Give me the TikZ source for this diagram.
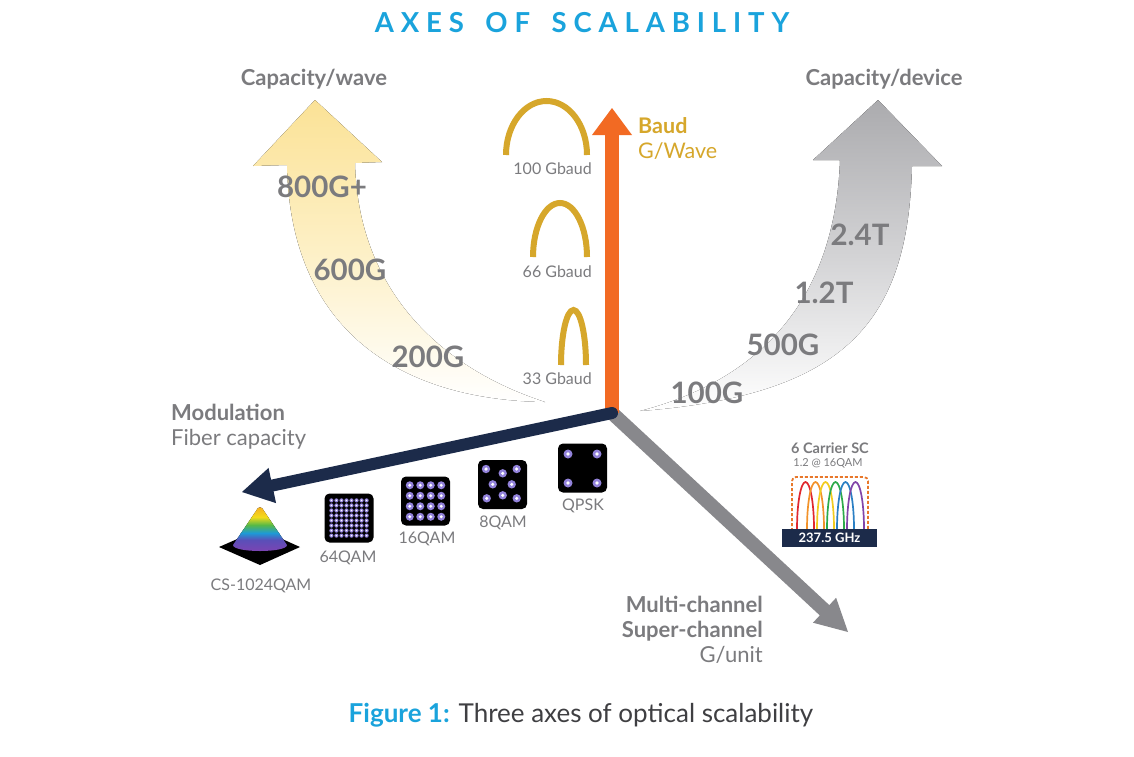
\documentclass[tikz,border=0pt]{standalone}
\usepackage{fontspec}
\setmainfont{Lato}
\usetikzlibrary{calc}
\definecolor{tblue}{HTML}{1AA3DC}
\definecolor{tgray}{HTML}{7B7B7E}
\definecolor{tdark}{HTML}{3F3F42}
\definecolor{tgold}{HTML}{D6A72B}
\definecolor{torange}{HTML}{F26A23}
\definecolor{tnavy}{HTML}{1C2B4A}
\definecolor{tarrow}{HTML}{88888C}
\definecolor{ytop}{HTML}{FBE296}
\definecolor{ymid}{HTML}{FDF0C6}
\definecolor{gtop}{HTML}{ABABAE}
\definecolor{gmid}{HTML}{D3D3D5}
\definecolor{qpurple}{HTML}{9282DA}
\definecolor{dashor}{HTML}{E8772A}
\definecolor{c1}{HTML}{E0282E}
\definecolor{c2}{HTML}{F2922A}
\definecolor{c3}{HTML}{F2CB1F}
\definecolor{c4}{HTML}{2DAA4A}
\definecolor{c5}{HTML}{2A7FC4}
\definecolor{c6}{HTML}{8244A8}
\definecolor{k1}{HTML}{F5A623}
\definecolor{k2}{HTML}{F3DB1A}
\definecolor{k3}{HTML}{56B947}
\definecolor{k4}{HTML}{1E9AD6}
\definecolor{k5}{HTML}{5A4FB8}
\definecolor{k6}{HTML}{8A3FB0}
\newcommand\myarch[5][]{%
  \draw[#1] (#2,#4) .. controls (#2,{#4-0.552*(#4-#5)}) and ({(#2+#3)/2-0.552*(#3-#2)/2},#5) .. ({(#2+#3)/2},#5)
    .. controls ({(#2+#3)/2+0.552*(#3-#2)/2},#5) and (#3,{#4-0.552*(#4-#5)}) .. (#3,#4);}
\newcommand\qdot[3]{\fill[qpurple] (#1,#2) circle (#3); \fill[white] (#1,#2) circle ({0.42*#3});}
\begin{document}
\begin{tikzpicture}[x=1pt,y=-1pt,
  lbl/.style={text=tgray, font=\bfseries\fontsize{22}{24}\selectfont, inner sep=0},
  lblr/.style={text=tgray, font=\fontsize{22}{24}\selectfont, inner sep=0},
  val/.style={text=tgray, font=\bfseries\fontsize{29.5}{32}\selectfont, inner sep=0},
  small/.style={text=tgray, font=\fontsize{16}{18}\selectfont, inner sep=0},
  qbox/.style={fill=black, rounded corners=5pt, inner sep=0, minimum size=49pt},
  goldarch/.style={draw=tgold, line width=6pt},
  carrier/.style={line width=1.7pt},
]
\useasboundingbox (0,0) rectangle (1134,756);
\fill[white] (0,0) rectangle (1134,756);

% title
\node[text=tblue, font=\bfseries\fontsize{27.5}{30}\selectfont\addfontfeature{LetterSpace=25}, inner sep=0, anchor=base] (title) at (582,32) {AXES\hspace{8pt} OF\hspace{8pt} SCALABILITY};

% curved yellow arrow
\fill[top color=ytop, bottom color=white, middle color=ymid]
  (545,402) .. controls (400,400) and (290,330) .. (287,165)
  -- (253,166) -- (315,100) -- (382,162) -- (355,163)
  .. controls (358,290) and (440,368) .. (545,402) -- cycle;
% curved gray arrow
\fill[top color=gtop, bottom color=white, middle color=gmid]
  (640,411) .. controls (760,380) and (835,300) .. (840,160)
  -- (813,160) -- (878,100) -- (942,166) -- (912,166)
  .. controls (908,320) and (848,395) .. (640,411) -- cycle;

\node[lbl, anchor=base] (capw) at (314,85) {Capacity/wave};
\node[lbl, anchor=base] (capd) at (884,85) {Capacity/device};
\node[val, anchor=base] (v800) at (322,197) {800G+};
\node[val, anchor=base] (v600) at (350,280) {600G};
\node[val, anchor=base] (v200) at (428,367) {200G};
\node[val, anchor=base] (v24) at (860,245) {2.4T};
\node[val, anchor=base] (v12) at (824,303) {1.2T};
\node[val, anchor=base] (v500) at (783,355) {500G};
\node[val, anchor=base] (v100) at (707,403) {100G};

% gold arches
\myarch[goldarch]{506}{587}{155}{101}
\myarch[goldarch]{533}{587}{257}{203}
\myarch[goldarch]{561}{586}{365}{310}
\node[small, anchor=base east] (g100) at (592,174) {100 Gbaud};
\node[small, anchor=base east] (g66) at (592,277) {66 Gbaud};
\node[small, anchor=base east] (g33) at (592,384) {33 Gbaud};

\node[text=tgold, font=\bfseries\fontsize{21.5}{24}\selectfont, inner sep=0, anchor=base west] (baud) at (638,133) {Baud};
\node[text=tgold, font=\fontsize{21.5}{24}\selectfont, inner sep=0, anchor=base west] (gwave) at (638,158) {G/Wave};

% axes
\coordinate (O) at (612,413);
\coordinate (baudtip) at (612,108);
\coordinate (modtip) at (242,492);
\coordinate (chantip) at (848,632);

\coordinate (chanbase) at ($(chantip)!32pt!(O)$);
\draw[tarrow, line width=14pt] (O) -- ($(chantip)!28pt!(O)$);
\fill[tarrow] (chantip) -- ($(chanbase)!17pt!90:(chantip)$) -- ($(chanbase)!17pt!-90:(chantip)$) -- cycle;

\coordinate (baudbase) at ($(baudtip)!27pt!(O)$);
\draw[torange, line width=14pt] (O) -- ($(baudtip)!24pt!(O)$);
\fill[torange] (baudtip) -- ($(baudbase)!20pt!90:(baudtip)$) -- ($(baudbase)!20pt!-90:(baudtip)$) -- cycle;

\coordinate (modbase) at ($(modtip)!31pt!(O)$);
\draw[tnavy, line width=12pt, line cap=round] (O) -- ($(modtip)!27pt!(O)$);
\fill[tnavy] (modtip) -- ($(modbase)!18pt!90:(modtip)$) -- ($(modbase)!18pt!-90:(modtip)$) -- cycle;

\node[lbl, anchor=base west] (modl) at (171,420) {Modulation};
\node[lblr, anchor=base west] (fibl) at (171,445) {Fiber capacity};

% constellations
\node[qbox] (q64) at (349,518) {};
\foreach \i in {0,...,7} \foreach \j in {0,...,7} {\qdot{331.4+5.03*\i}{500.4+5.03*\j}{2.1}}
\node[qbox] (q16) at (425.5,501) {};
\foreach \i in {0,...,3} \foreach \j in {0,...,3} {\qdot{409.75+10.5*\i}{485.25+10.5*\j}{4}}
\node[qbox] (q8) at (502.5,484.5) {};
\qdot{486}{469}{4.2}\qdot{502.7}{473.3}{4.2}\qdot{516.7}{469}{4.2}
\qdot{492.7}{484.3}{4.2}\qdot{511.7}{484.3}{4.2}
\qdot{486.7}{498.3}{4.2}\qdot{502.7}{495.3}{4.2}\qdot{516.7}{498.3}{4.2}
\node[qbox] (qpsk) at (582.5,468) {};
\qdot{568}{454}{4.5}\qdot{597}{454}{4.5}\qdot{568}{483}{4.5}\qdot{597}{483}{4.5}

\node[small, anchor=base] (l64) at (348,562) {64QAM};
\node[small, anchor=base] (l16) at (427,543) {16QAM};
\node[small, anchor=base] (l8) at (503,527) {8QAM};
\node[small, anchor=base] (lqpsk) at (583,510) {QPSK};
\node[small, anchor=base] (lcs) at (261,590) {CS-1024QAM};

% cone
\fill[black] (219,547) -- (260,529) -- (300,547) -- (260,565) -- cycle;
\begin{scope}
\clip (233,545) -- (256,511) .. controls (258,506) and (262,506) .. (264,511) -- (287,545)
  .. controls (287,553) and (233,553) .. (233,545) -- cycle;
\fill[top color=k1, bottom color=k2] (225,505) rectangle (295,517);
\fill[top color=k2, bottom color=k3] (225,517) rectangle (295,525);
\fill[top color=k3, bottom color=k4] (225,525) rectangle (295,533);
\fill[top color=k4, bottom color=k5] (225,533) rectangle (295,540);
\fill[top color=k5, bottom color=k6] (225,540) rectangle (295,556);
\end{scope}

% 6 carrier SC
\node[text=tgray, font=\bfseries\fontsize{14.5}{16}\selectfont, inner sep=0, anchor=base] (sc) at (830,453) {6 Carrier SC};
\node[text=tgray, font=\fontsize{11}{12}\selectfont, inner sep=0, anchor=base] (sc2) at (828,466) {1.2 @ 16QAM};
\draw[dashor, line width=1.8pt, dash pattern=on 3pt off 2pt, rounded corners=4pt] (792,531) -- (792,477) -- (868,477) -- (868,531);
\myarch[carrier, c1]{797}{814}{529}{482}
\myarch[carrier, c2]{807}{824}{529}{482}
\myarch[carrier, c3]{817}{834}{529}{482}
\myarch[carrier, c4]{827}{844}{529}{482}
\myarch[carrier, c5]{837}{854}{529}{482}
\myarch[carrier, c6]{847}{864}{529}{482}
\node[fill=tnavy, text=white, font=\bfseries\fontsize{13}{14}\selectfont, minimum width=95pt, minimum height=18pt, inner sep=0] (ghz) at (829.5,538) {237.5 GHz};

% multi-channel
\node[lbl, anchor=base east] (mc) at (763,612) {Multi-channel};
\node[lbl, anchor=base east] (sup) at (763,637) {Super-channel};
\node[lblr, anchor=base east] (gu) at (763,662) {G/unit};

% caption
\node[font=\fontsize{26}{28}\selectfont, inner sep=0, anchor=base] (cap) at (581,722) {\textcolor{tblue}{\bfseries Figure 1:} \textcolor{tdark}{Three axes of optical scalability}};
\end{tikzpicture}
\end{document}
